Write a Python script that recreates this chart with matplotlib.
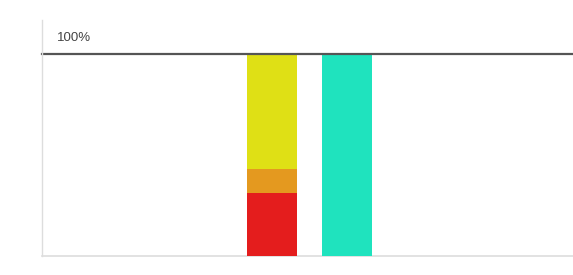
import matplotlib
matplotlib.use("Agg")
import matplotlib.pyplot as plt
from matplotlib.lines import Line2D

categories = ["A", "B"]
red_vals = [31, 0]
orange_vals = [12, 0]
yellow_vals = [57, 0]
teal_vals = [0, 100]
top_label = "100%"

W, H = 573, 275
fig = plt.figure(figsize=(W / 100, H / 100), dpi=100)
x0, x1 = 42, 573
y_top, y_bot = 54, 256
ax = fig.add_axes([x0 / W, (H - y_bot) / H, (x1 - x0) / W, (y_bot - y_top) / H])

pos = [0, 1]
bw = 50 / 75
ax.bar(pos, red_vals, width=bw, color="#e41d1d", linewidth=0)
bottoms = [a for a in red_vals]
ax.bar(pos, orange_vals, width=bw, bottom=bottoms, color="#e4991f", linewidth=0)
bottoms = [a + b for a, b in zip(red_vals, orange_vals)]
ax.bar(pos, yellow_vals, width=bw, bottom=bottoms, color="#dfe015", linewidth=0)
ax.bar(pos, teal_vals, width=bw, bottom=[0, 0], color="#1fe3be", linewidth=0)

left_units = (272 - x0) / 75
ax.set_xlim(-left_units, -left_units + (x1 - x0) / 75)
ax.set_ylim(0, 100)
ax.axhline(100, color="#555555", lw=1.6, zorder=5, clip_on=False)
ax.axhline(0, color="#dddddd", lw=1.2, zorder=0, clip_on=False)
for s in ax.spines.values():
    s.set_visible(False)
ax.set_xticks([])
ax.set_yticks([])

fig.add_artist(Line2D([x0 / W, x0 / W], [(H - 20) / H, (H - y_bot) / H],
                      color="#dddddd", lw=1.0, transform=fig.transFigure))
fig.text(57 / W, (H - 38) / H, top_label, fontsize=9.5, color="#444444",
         ha="left", va="center", family="Liberation Sans")

fig.savefig("out.png", dpi=100, facecolor="white")
